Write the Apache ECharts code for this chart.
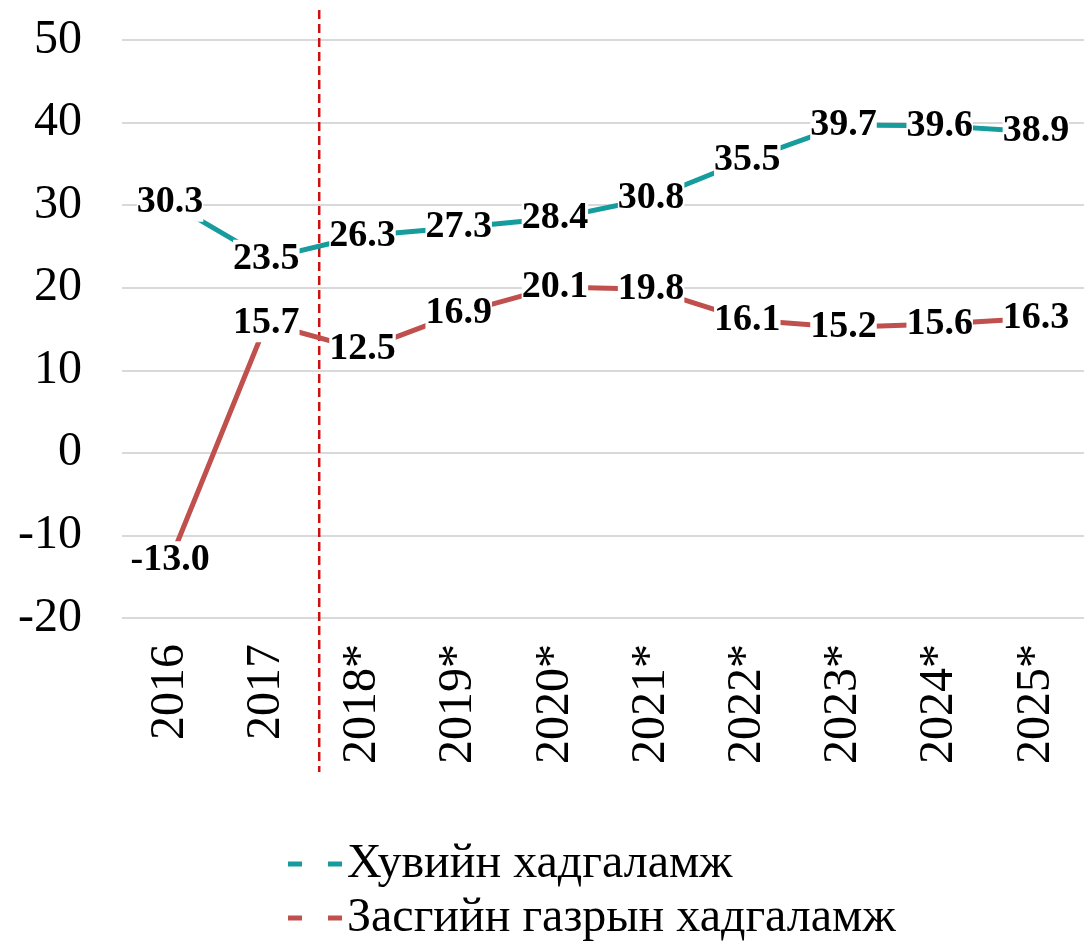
<!DOCTYPE html>
<html>
<head>
<meta charset="utf-8">
<script src="https://cdn.jsdelivr.net/npm/echarts@6/dist/echarts.min.js"></script>
<style>
html,body{margin:0;padding:0;background:#fff;}
#chart{width:1084px;height:950px;}
</style>
</head>
<body>
<div id="chart"></div>
<script>
const categories = ['2016','2017','2018*','2019*','2020*','2021*','2022*','2023*','2024*','2025*'];
const privateSavings = [30.3, 23.5, 26.3, 27.3, 28.4, 30.8, 35.5, 39.7, 39.6, 38.9];
const governmentSavings = [-13.0, 15.7, 12.5, 16.9, 20.1, 19.8, 16.1, 15.2, 15.6, 16.3];
const seriesNames = ['Хувийн хадгаламж', 'Засгийн газрын хадгаламж'];
const yTicks = { min: -20, max: 50, interval: 10 };
const forecastSplit = 1.55; // category position of dashed divider

const FONT = '"Liberation Serif", "DejaVu Serif", serif';
const TEAL = '#169c9c';
const RED = '#c0504d';

const chart = echarts.init(document.getElementById('chart'));

const labelCfg = {
  show: true,
  position: 'inside',
  fontFamily: FONT,
  fontWeight: 'bold',
  fontSize: 38,
  color: '#000',
  backgroundColor: '#fff',
  padding: [0, 0],
  formatter: p => Number(p.value).toFixed(1)
};

const dashIcon = 'path://M0,0h14v5h-14z M40,0h14v5h-14z';
const legendBase = {
  orient: 'vertical',
  left: 283,
  itemWidth: 54,
  itemHeight: 5,
  textStyle: { fontFamily: FONT, fontSize: 48, color: '#000' }
};

chart.setOption({
  animation: false,
  grid: { left: 122, right: -4, top: 40, bottom: 332, containLabel: false },
  legend: [
    Object.assign({}, legendBase, { top: 835, data: [{ name: seriesNames[0], icon: dashIcon, itemStyle: { color: TEAL, opacity: 1, borderWidth: 0 } }] }),
    Object.assign({}, legendBase, { top: 889, data: [{ name: seriesNames[1], icon: dashIcon, itemStyle: { color: RED, opacity: 1, borderWidth: 0 } }] })
  ],
  xAxis: {
    type: 'category',
    data: categories,
    boundaryGap: true,
    axisLine: { show: false },
    axisTick: { show: false },
    axisLabel: {
      rotate: 90,
      margin: 26,
      fontFamily: FONT,
      fontSize: 48,
      color: '#000',
      interval: 0
    }
  },
  yAxis: {
    type: 'value',
    min: yTicks.min,
    max: yTicks.max,
    interval: yTicks.interval,
    axisLine: { show: false },
    axisTick: { show: false },
    splitLine: { lineStyle: { color: '#d9d9d9', width: 2 } },
    axisLabel: {
      margin: 40,
      fontFamily: FONT,
      fontSize: 48,
      color: '#000'
    }
  },
  series: [
    {
      name: seriesNames[0],
      type: 'line',
      data: privateSavings,
      symbol: 'circle',
      symbolSize: 2,
      showSymbol: true,
      itemStyle: { color: 'rgba(0,0,0,0)', borderWidth: 0 },
      lineStyle: { color: TEAL, width: 5 },
      label: labelCfg,
      z: 3
    },
    {
      name: seriesNames[1],
      type: 'line',
      data: governmentSavings,
      symbol: 'circle',
      symbolSize: 2,
      showSymbol: true,
      itemStyle: { color: 'rgba(0,0,0,0)', borderWidth: 0 },
      lineStyle: { color: RED, width: 5 },
      label: labelCfg,
      z: 2
    }
  ]
});

// dashed forecast divider placed through the axis scale
const p1 = chart.convertToPixel({ xAxisIndex: 0 }, categories[1]);
const p2 = chart.convertToPixel({ xAxisIndex: 0 }, categories[2]);
const xDiv = p1 + (forecastSplit - 1) * (p2 - p1);
const yTop = chart.convertToPixel({ yAxisIndex: 0 }, yTicks.max);
chart.setOption({
  graphic: [{
    type: 'line',
    shape: { x1: xDiv, y1: yTop - 30, x2: xDiv, y2: 772 },
    style: { stroke: '#cc1111', lineWidth: 2.5, lineDash: [9, 5] },
    z: 1
  }]
});
</script>
</body>
</html>
